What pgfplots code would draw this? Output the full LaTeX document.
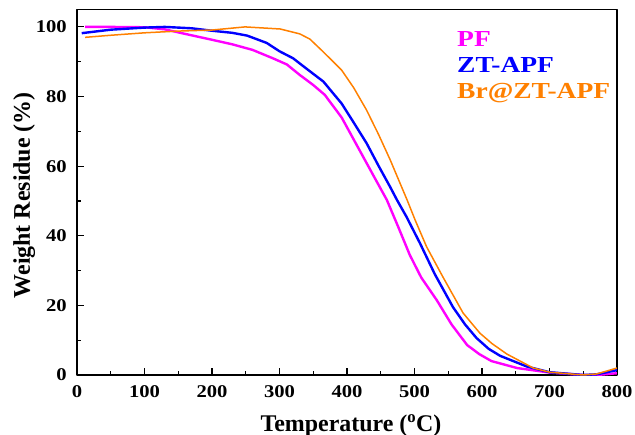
\documentclass[border=0pt]{standalone}
\usepackage{fontspec}
\setmainfont{Liberation Serif}
\newfontfamily\tickfont[FakeStretch=1.15]{Liberation Serif}
\newfontfamily\legfont[FakeStretch=1.2]{Liberation Serif}
\usepackage{pgfplots}
\pgfplotsset{compat=1.18}

\definecolor{pfmag}{RGB}{255,0,255}
\definecolor{ztblue}{RGB}{0,0,255}
\definecolor{brorange}{RGB}{255,128,0}

\begin{document}
\begin{tikzpicture}
\path[use as bounding box] (-77bp,-60bp) rectangle (558bp,375bp);
\begin{axis}[
  at={(0,0)}, anchor=south west,
  scale only axis,
  width=540bp, height=365.5bp,
  xmin=0, xmax=800, ymin=0, ymax=105,
  xtick={0,100,...,800}, ytick={0,20,...,100},
  minor x tick num=1, minor y tick num=1,
  tick align=inside, tick pos=left,
  major tick length=7bp, minor tick length=4bp,
  axis line style={line width=1.3bp},
  every tick/.style={black, line width=1.1bp},
  /pgf/number format/assume math mode=true,
  tick label style={font=\tickfont\bfseries\fontsize{18}{20}\selectfont},
  xticklabel style={anchor=north, inner sep=0pt, yshift=-10bp},
  yticklabel style={anchor=east, inner sep=0pt, xshift=-10bp},
  xlabel={Temperature (\textsuperscript{o}C)},
  ylabel={Weight Residue (\%)},
  label style={font=\bfseries\fontsize{24}{28}\selectfont},
  xlabel style={at={(axis description cs:0.5,0)}, anchor=base, yshift=-56bp, xshift=4bp},
  ylabel style={at={(axis description cs:0,0.5)}, anchor=base, yshift=47bp, xshift=-3bp},
  line join=round,
]
% PF
\addplot[pfmag, line width=2.4bp] coordinates {
 (12,100) (50,100) (100,99.9) (130,99.3) (160,98) (200,96.3) (230,95)
 (260,93.4) (290,91) (311,89.2) (330,86.2) (350,83.3) (367,80.5) (392,74)
 (416,65.5) (440,57) (459,50.3) (476,42.5) (493,34.5) (510,28) (533,21.5)
 (555,14.5) (578,8.6) (596,6) (614,4) (652,2) (700,0.7) (750,0) (770,0) (800,0.5)
};
% ZT-APF
\addplot[ztblue, line width=2.4bp] coordinates {
 (7,98.2) (50,99.2) (100,99.8) (130,100) (170,99.6) (200,98.9) (230,98.3)
 (252,97.5) (281,95.4) (300,93) (320,91) (340,88) (365,84.3) (392,78)
 (410,72.5) (429,66.6) (447,60) (464,54) (474,50.3) (488,45.5) (508,37.9)
 (530,29) (557,19.5) (575,14.5) (592,10.6) (610,7.5) (627,5.5) (667,2.4)
 (700,0.8) (750,0) (770,0.2) (800,1.4)
};
% Br@ZT-APF
\addplot[brorange, line width=1.5bp] coordinates {
 (12,97) (50,97.6) (100,98.3) (150,98.8) (200,99.1) (249,100) (301,99.4)
 (330,98) (345,96.5) (365,92.8) (392,87.6) (410,82.5) (429,76.1) (447,69)
 (464,61.8) (489,50.3) (501,44.5) (518,36.8) (542,28.2) (572,17.8) (597,12)
 (615,9) (637,6) (676,2) (700,0.8) (750,0) (770,0.3) (800,2)
};
\node[anchor=base west, inner sep=0pt, text=pfmag, font=\legfont\bfseries\fontsize{23}{26}\selectfont] at (axis cs:563,94.5) {PF};
\node[anchor=base west, inner sep=0pt, text=ztblue, font=\legfont\bfseries\fontsize{23}{26}\selectfont] at (axis cs:563,87.0) {ZT-APF};
\node[anchor=base west, inner sep=0pt, text=brorange, font=\legfont\bfseries\fontsize{23}{26}\selectfont] at (axis cs:563,79.3) {Br@ZT-APF};
\end{axis}
\end{tikzpicture}
\end{document}
